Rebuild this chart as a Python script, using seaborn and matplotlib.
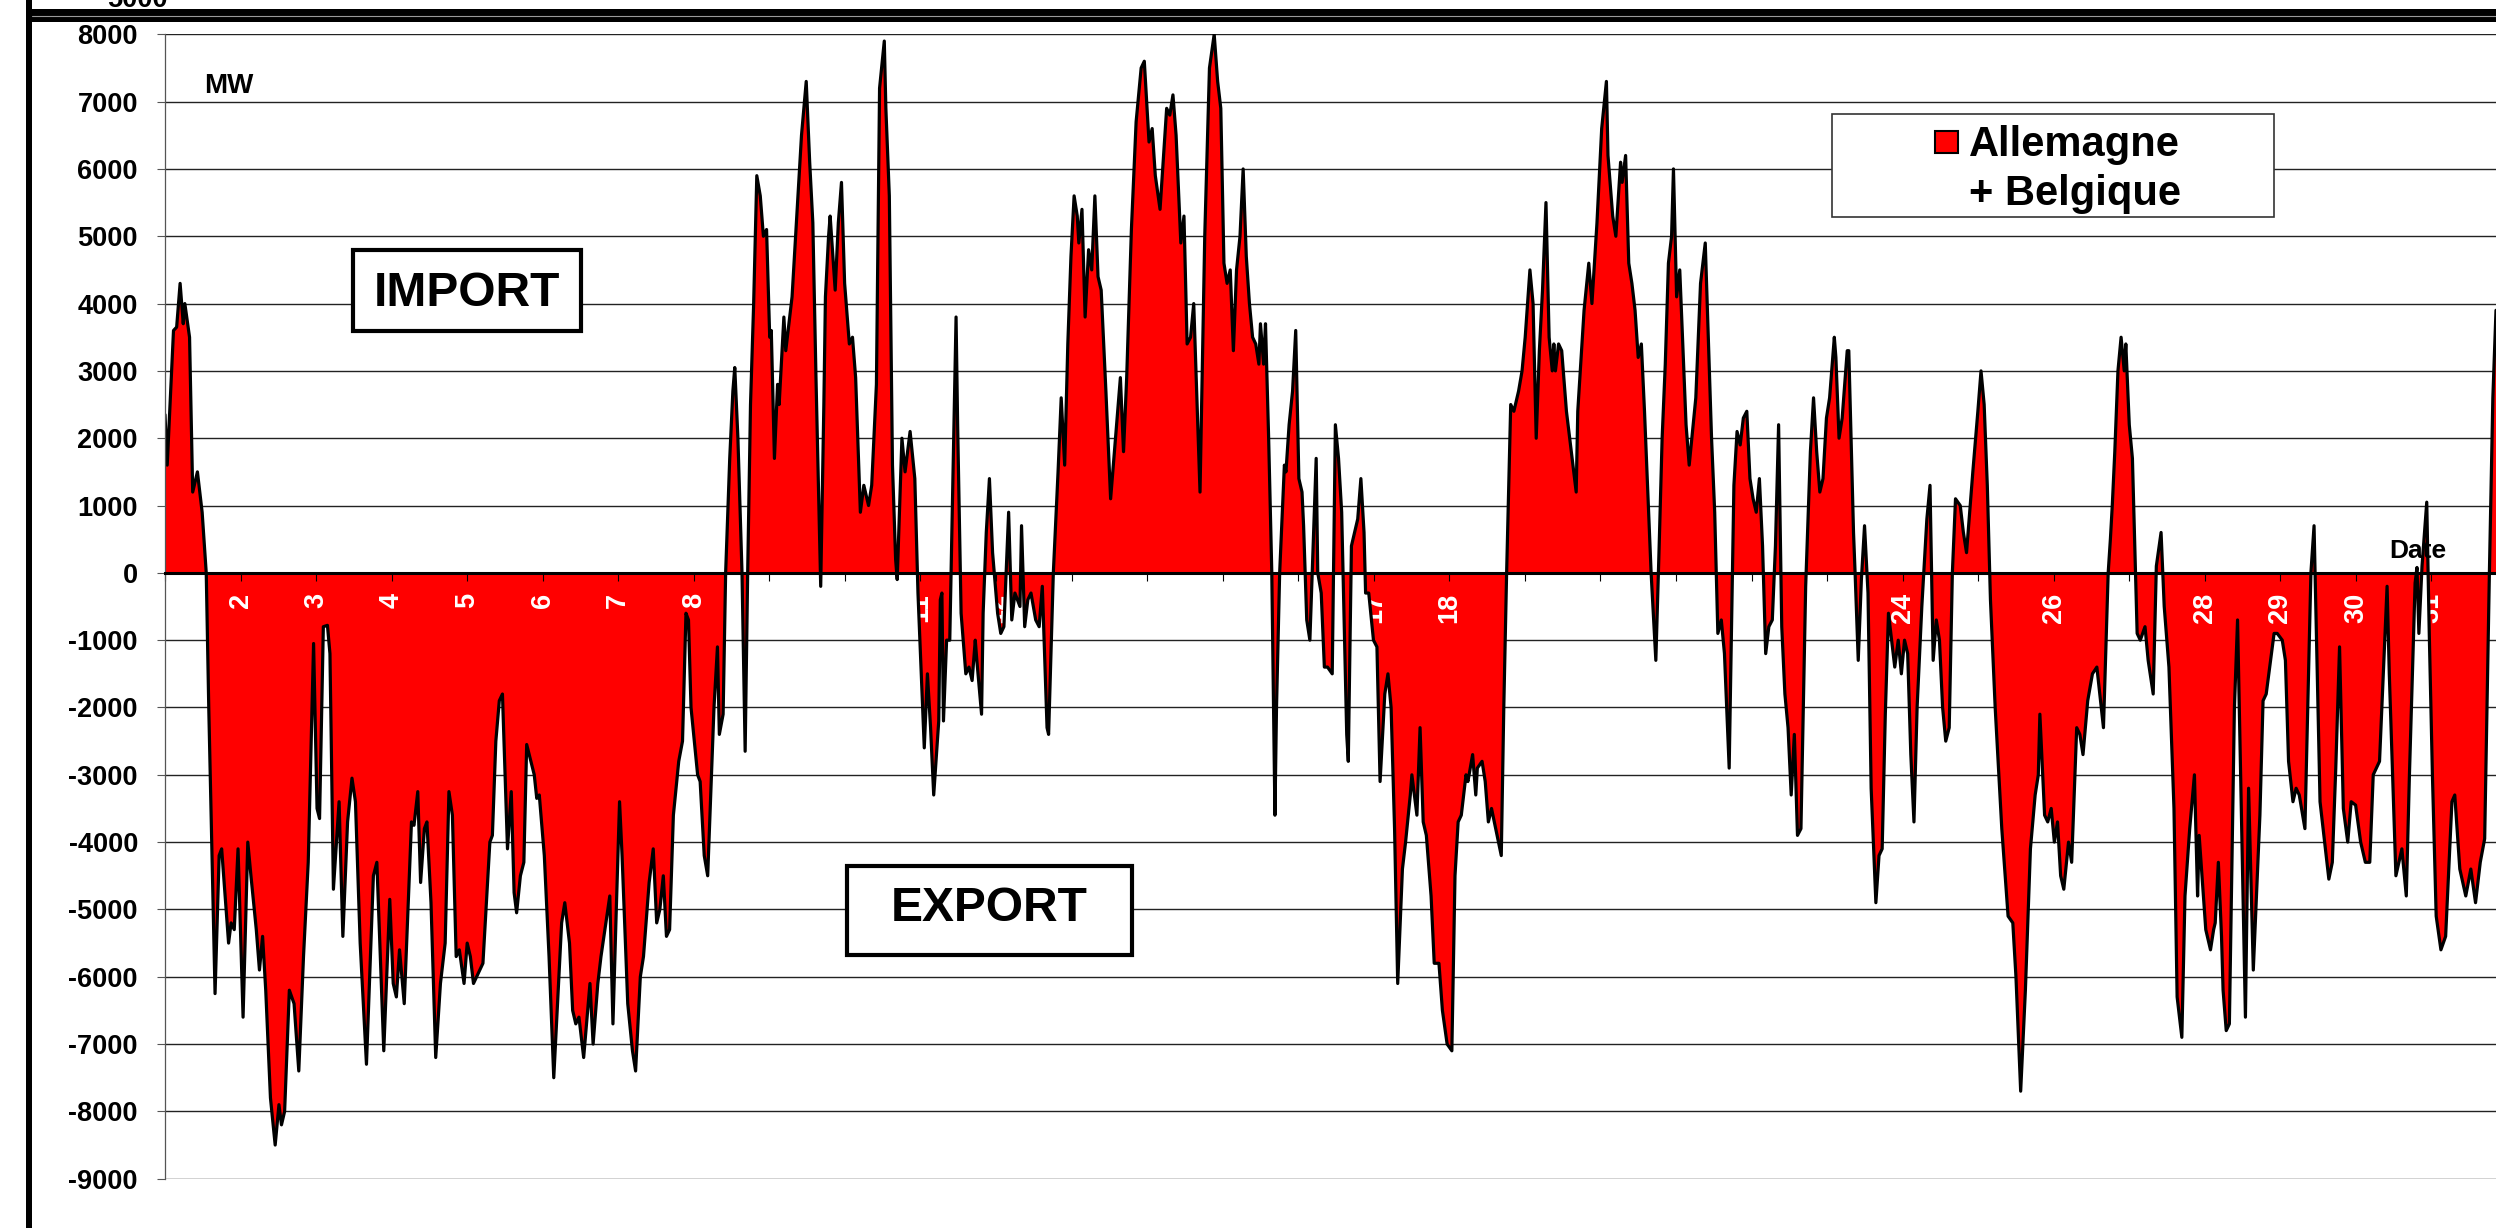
#!/usr/bin/env python3
"""
Net exchange Allemagne + Belgique, one month, hourly (MW)
"""

import pandas as pd
import seaborn as sns
import matplotlib.pyplot as plt
from matplotlib.patches import Rectangle
from matplotlib.lines import Line2D

W, H = 2496, 1228

# (hour of month, MW) - hour 0 = day 1, 00h
week1 = [
    (0, 2350), (0.7, 1600), (2.7, 3600), (3.7, 3650), (4.8, 4300), (5.8, 3700), (6.3, 4000),
    (7.8, 3500), (8.8, 1200), (10.3, 1500), (11.8, 900), (13.1, 0), (13.9, -2000), (15.9, -6250),
    (17.2, -4200), (18.0, -4100), (20.2, -5500), (21.0, -5200), (22.0, -5300), (23.2, -4100),
    (24.8, -6600), (26.3, -4000), (27.3, -4500), (29.0, -5300), (30.0, -5900), (31.0, -5400),
    (32.0, -6200), (33.5, -7800), (35.0, -8500), (36.2, -7900), (37.0, -8200), (38.0, -8000),
    (39.5, -6200), (41.0, -6400), (42.5, -7400), (44.0, -5700), (45.5, -4300), (47.2, -1050),
    (48.3, -3500), (49.1, -3650), (50.3, -800), (51.6, -780), (52.4, -1200), (53.5, -4700),
    (55.3, -3400), (56.5, -5400), (58.0, -3700), (59.4, -3050), (60.5, -3400), (62.0, -5500),
    (64.0, -7300), (66.2, -4500), (67.3, -4300), (69.5, -7100), (71.4, -4850), (72.5, -6100),
    (73.5, -6300), (74.5, -5600), (76.0, -6400), (78.3, -3700), (79.1, -3750), (80.3, -3250),
    (81.2, -4600), (82.4, -3800), (83.2, -3700), (84.5, -4900), (86.0, -7200), (87.5, -6100),
    (89.0, -5500), (90.2, -3250), (91.3, -3600), (92.5, -5700), (93.5, -5600), (95.0, -6100),
    (96.0, -5500), (97.0, -5700), (98.0, -6100), (100.0, -5900), (101.0, -5800), (103.2, -4000),
    (104.0, -3900), (105.1, -2500), (106.2, -1900), (107.2, -1800), (108.8, -4100), (110.0, -3250),
    (110.9, -4750), (111.7, -5050), (112.9, -4500), (114.0, -4300), (114.9, -2550), (117.3, -3000),
    (118.1, -3350), (118.9, -3300), (120.5, -4200), (122.0, -5700), (123.5, -7500), (126.0, -5200),
    (127.0, -4900), (128.5, -5500), (129.5, -6500), (130.5, -6700), (131.5, -6600), (133.0, -7200),
    (135.0, -6100), (136.0, -7000), (137.5, -6100), (138.5, -5700), (141.3, -4800), (142.3, -6700),
    (143.3, -5100), (144.4, -3400), (145.2, -4200), (147.0, -6400), (148.5, -7100), (149.5, -7400),
    (151.0, -6000), (152.0, -5700), (153.0, -5100), (153.8, -4600), (155.1, -4100), (156.2, -5200),
    (157.2, -5000), (158.3, -4500), (159.3, -5400), (160.3, -5300), (161.5, -3600), (163.2, -2800),
    (164.4, -2500), (165.5, -600), (166.3, -700), (167.1, -2000), (169.2, -3000), (170.0, -3100),
    (171.3, -4200), (172.4, -4500), (174.4, -2000), (175.5, -1100), (176.1, -2400), (177.3, -2100),
    (178.1, 0), (179.4, 1700), (180.4, 2700), (181.0, 3050), (182.0, 2000), (183.3, 0),
    (184.3, -2650), (185.1, 0),
]

week2 = [
    (186.0, 2500), (187.0, 4000), (188.0, 5900), (189.1, 5600), (190.1, 5000), (191.1, 5100),
    (192.1, 3500), (192.6, 3600), (193.6, 1700), (194.6, 2800), (195.1, 2500), (196.6, 3800),
    (197.2, 3300), (198.2, 3700), (199.2, 4100), (200.7, 5300), (202.2, 6500), (203.7, 7300),
    (204.8, 6100), (205.8, 5200), (206.8, 2900), (208.3, -200), (209.3, 2500), (209.8, 4100),
    (210.8, 5000), (211.3, 5300), (212.9, 4200), (213.9, 5200), (214.9, 5800), (215.9, 4300),
    (217.4, 3400), (218.4, 3500), (219.4, 2900), (220.9, 900), (222.0, 1300), (223.5, 1000),
    (224.5, 1300), (226.0, 2800), (227.0, 7200), (228.5, 7900), (229.0, 6900), (230.1, 5600),
    (231.1, 1600), (232.1, 200), (232.6, -100), (234.1, 2000), (235.1, 1500), (236.7, 2100),
    (238.2, 1400), (239.2, -300), (241.2, -2600), (242.2, -1500), (243.2, -2300), (244.2, -3300),
    (245.8, -2200), (246.3, -400), (246.8, -300), (247.3, -2200), (248.3, -1000), (249.3, -1000),
    (251.3, 3800), (251.8, 2200), (252.9, -600), (254.4, -1500), (255.4, -1400), (256.4, -1600),
    (257.4, -1000), (257.9, -1300), (259.4, -2100), (259.9, -600), (260.9, 600), (261.9, 1400),
    (262.9, 300), (264.5, -600), (265.5, -900), (266.5, -800), (268.0, 900), (269.0, -700),
    (270.0, -300), (271.6, -500), (272.1, 700), (273.1, -800), (274.1, -400), (275.1, -300),
    (276.6, -700), (277.7, -800), (278.7, -200), (280.2, -2300), (280.7, -2400), (282.2, 0),
    (283.7, 1500), (284.7, 2600), (285.8, 1600), (286.8, 3400), (287.8, 4700), (288.8, 5600),
    (289.8, 5300), (290.3, 4900), (291.3, 5400), (292.3, 3800), (293.4, 4800), (294.4, 4500),
    (295.4, 5600), (296.4, 4400), (297.4, 4200), (298.9, 2700), (300.4, 1100), (303.5, 2900),
    (304.5, 1800), (305.5, 2900), (307.0, 5100), (308.5, 6700), (310.1, 7500), (311.1, 7600),
    (312.6, 6400), (313.6, 6600), (314.6, 5900), (316.1, 5400), (318.2, 6900), (319.2, 6800),
    (320.2, 7100), (321.2, 6500), (322.7, 4900), (323.7, 5300), (324.7, 3400), (325.8, 3500),
    (326.8, 4000), (328.8, 1200), (330.3, 5000), (331.8, 7500), (333.3, 8000), (334.4, 7300),
    (335.4, 6900), (336.4, 4600), (337.4, 4300), (338.4, 4500), (339.4, 3300), (340.4, 4500),
    (341.5, 5000), (342.5, 6000), (343.5, 4700), (344.5, 4000), (345.5, 3500), (346.5, 3400),
    (347.5, 3100), (348.0, 3700), (349.0, 3100), (349.6, 3700), (350.6, 2000), (351.6, 0),
    (352.6, -3600), (353.1, -2000), (354.1, 0), (355.6, 1600), (356.1, 1500), (357.1, 2200),
    (358.2, 2700), (359.2, 3600), (360.2, 1400), (361.2, 1200), (361.7, 700), (362.7, -700),
    (363.7, -1000), (365.7, 1700), (366.2, 0), (367.3, -300), (368.3, -1400), (369.3, -1400),
    (370.8, -1500), (371.8, 2200), (372.8, 1700), (373.8, 900), (375.4, -2400), (375.9, -2800),
    (376.9, 400), (378.9, 800), (379.9, 1400), (380.9, 600), (381.4, -300), (382.4, -300),
    (383.9, -1000), (385.0, -1100), (386.0, -3100), (387.5, -1800), (388.5, -1500), (389.5, -2000),
    (390.6, -3800), (391.6, -6100), (393.1, -4400), (394.1, -4000), (395.6, -3300), (396.1, -3000),
    (397.7, -3600), (398.7, -2300), (399.7, -3700), (400.7, -3900), (402.2, -4800), (403.2, -5800),
    (404.7, -5800), (405.8, -6500), (407.3, -7000), (408.8, -7100), (409.8, -4500), (410.8, -3700),
    (411.8, -3600), (413.3, -3000), (413.9, -3100), (415.4, -2700), (416.4, -3300), (416.9, -2900),
    (418.4, -2800), (419.4, -3100), (420.4, -3700), (421.4, -3500), (424.5, -4200), (425.3, -2000),
    (426.2, 0),
]

week3 = [
    (427.5, 2500), (428.5, 2400), (430.0, 2700), (431.1, 3000), (432.1, 3500), (433.6, 4500),
    (434.6, 4000), (435.6, 2000), (436.6, 3300), (437.6, 4200), (438.7, 5500), (439.7, 3500),
    (440.7, 3000), (441.2, 3400), (441.7, 3000), (442.7, 3400), (443.7, 3300), (445.2, 2400),
    (448.3, 1200), (448.8, 2400), (450.8, 3900), (452.3, 4600), (453.3, 4000), (454.9, 5200),
    (456.4, 6600), (457.9, 7300), (458.4, 6200), (459.9, 5300), (460.9, 5000), (462.4, 6100),
    (462.9, 5800), (464.0, 6200), (465.0, 4600), (466.0, 4300), (467.0, 3900), (468.0, 3200),
    (469.0, 3400), (470.0, 2400), (472.1, 0), (473.6, -1300), (474.6, 300), (475.6, 2000),
    (476.6, 3100), (477.6, 4600), (478.6, 5000), (479.2, 6000), (480.2, 4100), (481.2, 4500),
    (483.2, 2200), (484.2, 1600), (486.3, 2600), (487.8, 4300), (489.3, 4900), (491.3, 2000),
    (492.3, 900), (493.3, -900), (494.4, -700), (495.4, -1200), (496.9, -2900), (498.4, 1300),
    (499.4, 2100), (500.4, 1900), (501.4, 2300), (502.5, 2400), (503.5, 1400), (504.5, 1100),
    (505.5, 900), (506.5, 1400), (507.5, 400), (508.5, -1200), (509.5, -800), (510.6, -700),
    (511.6, 400), (512.6, 2200), (513.6, -800), (514.6, -1800), (515.6, -2300), (516.6, -3300),
    (517.6, -2400), (518.6, -3900), (519.7, -3800), (521.2, -200), (522.7, 1800), (523.7, 2600),
    (524.7, 1800), (525.7, 1200), (526.7, 1400), (527.8, 2300), (528.8, 2600), (530.3, 3500),
    (530.8, 3200), (531.8, 2000), (532.8, 2300), (534.4, 3300), (534.9, 3300), (536.4, 600),
    (536.9, 0), (537.9, -1300), (538.9, -100), (539.9, 700), (541.0, -300), (542.0, -3200),
    (543.5, -4900), (544.5, -4200), (545.5, -4100), (546.5, -2100), (547.5, -600), (548.5, -1000),
    (549.5, -1400), (550.6, -1000), (551.6, -1500), (552.6, -1000), (553.6, -1200), (554.6, -2700),
    (555.6, -3700), (556.6, -2000), (558.1, -500), (559.7, 800), (560.7, 1300), (561.7, -1300),
    (562.7, -700), (563.7, -1000), (564.7, -2000), (565.7, -2500), (566.8, -2300), (567.8, 0),
    (568.8, 1100), (570.3, 1000), (571.3, 600), (572.3, 300), (574.3, 1500), (575.9, 2400),
    (576.9, 3000), (577.9, 2500), (578.9, 1300), (579.9, -400),
]

week4 = [
    (581.4, -2000), (583.5, -3800), (585.5, -5100), (587.0, -5200), (588.0, -6000), (589.5, -7700),
    (591.0, -6200), (592.6, -4100), (594.1, -3300), (595.1, -3000), (595.6, -2100), (597.1, -3600),
    (598.1, -3700), (599.2, -3500), (600.2, -4000), (601.2, -3700), (602.2, -4500), (603.2, -4700),
    (604.7, -4000), (605.7, -4300), (607.3, -2300), (608.3, -2400), (609.3, -2700), (610.8, -1900),
    (612.3, -1500), (613.7, -1400), (615.8, -2300), (617.3, 0), (618.0, 500), (618.6, 1000),
    (619.4, 1800), (620.4, 3000), (621.4, 3500), (622.4, 3000), (622.9, 3400), (624.0, 2200),
    (625.0, 1700), (626.5, -900), (627.5, -1000), (629.0, -800), (630.0, -1300), (631.6, -1800),
    (632.6, 100), (634.1, 600), (635.1, -500), (636.6, -1400), (638.2, -3500), (639.2, -6300),
    (640.7, -6900), (641.7, -4800), (643.2, -3800), (644.7, -3000), (645.7, -4800), (646.2, -3900),
    (648.3, -5300), (649.8, -5600), (650.8, -5300), (651.3, -5200), (652.3, -4300), (653.3, -5400),
    (653.8, -6200), (654.8, -6800), (655.8, -6700), (657.4, -2000), (658.4, -700), (660.9, -6600),
    (661.9, -3200), (663.4, -5900), (664.4, -4800), (665.5, -3600), (666.5, -1900), (667.5, -1800),
    (670.0, -900), (671.0, -900), (672.6, -1000), (673.6, -1300), (674.6, -2800), (676.0, -3400),
    (677.0, -3200), (678.0, -3300), (679.8, -3800), (681.7, 0), (682.7, 700), (684.6, -3400),
    (687.4, -4550), (688.5, -4300), (689.6, -2900), (690.8, -1100), (692.0, -3500), (693.4, -4000),
    (694.5, -3400), (695.9, -3450), (697.5, -4000), (699.0, -4300), (700.4, -4300), (701.5, -3000),
    (703.5, -2800), (705.9, -200), (706.6, -1500), (708.7, -4500), (710.6, -4100), (712.0, -4800),
    (713.0, -3000), (714.8, -150), (715.4, 80), (716.0, -900), (717.0, 100), (718.5, 1050),
    (719.3, -900), (720.3, -3000), (721.5, -5100), (723.0, -5600), (724.5, -5400), (726.5, -3400),
    (727.4, -3300), (729.0, -4400), (730.9, -4800), (732.5, -4400), (734.0, -4900), (735.5, -4300),
    (736.9, -3950), (738.4, 0), (739.5, 2600), (740.5, 3900),
]

days = list(range(1, 32))
y_ticks = list(range(-9000, 8001, 1000))
legend_lines = ["Allemagne", "+ Belgique"]


def fx(x):
    return x / W


def fy(y):
    return 1 - y / H


def main():
    df = pd.DataFrame(week1 + week2 + week3 + week4, columns=["heure", "MW"])
    df["jour"] = 1 + df["heure"] / 24

    sns.set_theme(style="white")
    plt.rcParams["font.family"] = ["Liberation Sans", "DejaVu Sans"]
    plt.rcParams["font.weight"] = "bold"
    plt.rcParams["text.color"] = "black"
    plt.rcParams["axes.unicode_minus"] = False

    fig = plt.figure(figsize=(W / 100, H / 100), dpi=100)
    ax = fig.add_axes([fx(165), fy(1178.7), fx(W - 165), (1178.7 - 34.3) / H])

    ax.fill_between(df["jour"], df["MW"], 0, color="#ff0000", linewidth=0, zorder=1)
    sns.lineplot(data=df, x="jour", y="MW", ax=ax, color="black", linewidth=2.3, zorder=2)

    ax.set_xlim(1, 1 + 740.5 / 24)
    ax.set_ylim(-9000, 8000)
    ax.set_xlabel("")
    ax.set_ylabel("")

    ax.set_xticks(days)
    ax.set_xticklabels([str(d) for d in days])
    ax.set_yticks(y_ticks)
    ax.tick_params(axis="x", bottom=True, direction="out", length=5.8, width=0.8,
                   color="black", labelcolor="white", labelsize=19.5, pad=8.6,
                   labelrotation=90)
    ax.tick_params(axis="y", left=True, direction="out", length=5.8, width=0.8,
                   color="#555555", labelcolor="black", labelsize=19.5, pad=13.7)

    ax.yaxis.grid(True, color="#222222", linewidth=1.0)
    ax.xaxis.grid(False)
    # grid under the fill, day labels over it
    ax.yaxis.set_zorder(0.5)
    ax.xaxis.set_zorder(1.5)

    ax.spines["bottom"].set_position(("data", 0))
    ax.spines["bottom"].set_linewidth(2.2)
    ax.spines["bottom"].set_color("black")
    ax.spines["left"].set_linewidth(0.9)
    ax.spines["left"].set_color("#555555")
    ax.spines["top"].set_visible(False)
    ax.spines["right"].set_visible(False)

    # texts
    fig.text(fx(204), fy(93), "MW", fontsize=20, fontweight="bold", ha="left", va="baseline")
    fig.text(fx(2446), fy(558), "Date", fontsize=19, fontweight="bold", ha="right", va="baseline")

    # IMPORT / EXPORT boxes
    for (x0, y0, x1, y1, base, label) in [(353, 250, 581, 331, 306, "IMPORT"),
                                          (847, 866, 1132, 955, 921, "EXPORT")]:
        fig.add_artist(Rectangle((fx(x0), fy(y1)), fx(x1 - x0), (y1 - y0) / H,
                                 transform=fig.transFigure, facecolor="white",
                                 edgecolor="black", linewidth=3))
        fig.text(fx((x0 + x1) / 2), fy(base), label, fontsize=34.5, fontweight="bold",
                 ha="center", va="baseline")

    # legend
    fig.add_artist(Rectangle((fx(1832), fy(217)), fx(442), 103 / H, transform=fig.transFigure,
                             facecolor="white", edgecolor="#333333", linewidth=1.2))
    fig.add_artist(Rectangle((fx(1935), fy(153)), fx(23), 22 / H, transform=fig.transFigure,
                             facecolor="#ff0000", edgecolor="black", linewidth=1.5))
    fig.text(fx(1969), fy(156), legend_lines[0], fontsize=30, fontweight="bold", va="baseline")
    fig.text(fx(1969), fy(205), legend_lines[1], fontsize=30, fontweight="bold", va="baseline")

    # chart frame and the bottom of the chart above (its last label is cut in the source too)
    fig.text(fx(168), fy(7), "5000", fontsize=19.5, fontweight="bold", ha="right", va="baseline")
    fig.add_artist(Rectangle((fx(26), 0), fx(6), 1, transform=fig.transFigure,
                             facecolor="black", edgecolor="none"))
    fig.add_artist(Rectangle((fx(26), fy(22)), fx(W - 26), 13 / H, transform=fig.transFigure,
                             facecolor="black", edgecolor="none"))
    fig.add_artist(Line2D([fx(32), 1], [fy(15.5), fy(15.5)], transform=fig.transFigure,
                          color="#999999", linewidth=0.8))

    fig.savefig("out.png", dpi=100)


if __name__ == "__main__":
    main()
